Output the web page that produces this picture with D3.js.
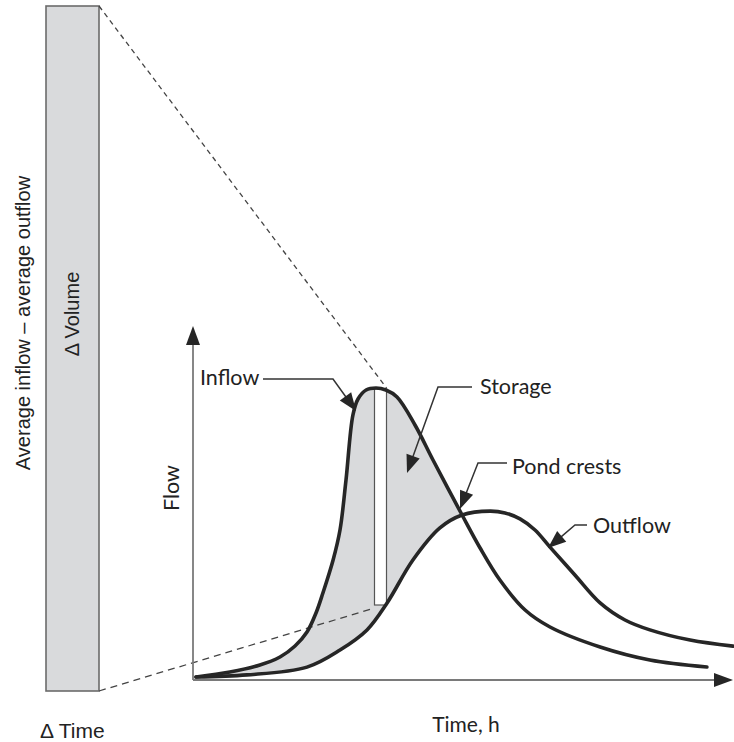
<!DOCTYPE html>
<html>
<head>
<meta charset="utf-8">
<script src="https://cdn.jsdelivr.net/npm/d3@7"></script>
<style>
  html, body { margin: 0; padding: 0; background: #fff; }
  svg { display: block; }
</style>
</head>
<body>
<svg id="chart" width="734" height="742"></svg>
<script>
// ---- Data (time in h, flow in arbitrary units) ----
const inflowTime = [0.1, 1.23, 2.23, 2.9, 3.4, 3.8, 4.1, 4.33, 4.67, 4.9, 5.1, 5.33, 5.5, 5.77, 6.1, 6.43, 6.8, 7.4, 8.0, 8.97, 9.57, 10.23, 11.07, 11.9, 13.57, 15.23, 17.13];
const inflowFlow = [1.0, 2.67, 5.0, 7.67, 11.33, 16.0, 22.33, 29.0, 40.0, 50.0, 66.67, 88.33, 93.67, 96.67, 97.33, 96.67, 94.33, 85.0, 73.33, 55.0, 44.0, 33.33, 23.33, 17.67, 11.0, 6.67, 4.33];
const outflowTime = [0.1, 1.8, 3.8, 4.9, 5.8, 6.47, 7.33, 8.23, 8.97, 9.9, 10.4, 10.9, 11.4, 11.9, 12.73, 13.57, 14.4, 15.23, 16.57, 18.0];
const outflowFlow = [1.0, 1.7, 4.3, 10.0, 16.7, 25.7, 40.0, 50.7, 55.0, 56.3, 55.7, 53.7, 50.0, 44.3, 35.0, 25.7, 20.0, 16.7, 13.3, 11.3];
const crossingTime = 8.97;            // pond crests: inflow meets outflow
const stripTime = [6.05, 6.45];       // Δ time slice
const stripFlow = [25.0, 97.0];       // outflow → inflow at the slice
const labels = ["Inflow", "Storage", "Pond crests", "Outflow"];

// ---- Layout ----
const svg = d3.select("#chart");
const x = d3.scaleLinear().domain([0, 18]).range([193, 733]);
const y = d3.scaleLinear().domain([0, 118]).range([680, 326]);

const inflow = inflowTime.map((t, i) => ({t, f: inflowFlow[i]}));
const outflow = outflowTime.map((t, i) => ({t, f: outflowFlow[i]}));

const line = d3.line().x(d => x(d.t)).y(d => y(d.f)).curve(d3.curveCatmullRom.alpha(0.5));

const ink = "#262626";
const axisCol = "#7a7a7a";
const fillGrey = "#d9dadc";

// Big magnified bar
const bar = {x0: 46, x1: 99, y0: 6, y1: 691};
svg.append("rect")
  .attr("x", bar.x0).attr("y", bar.y0)
  .attr("width", bar.x1 - bar.x0).attr("height", bar.y1 - bar.y0)
  .attr("fill", fillGrey).attr("stroke", "#6b6b6b").attr("stroke-width", 1.6);

// Storage fill between inflow and outflow up to crossing
const inSeg = inflow.filter(d => d.t <= crossingTime);
const outSeg = outflow.filter(d => d.t <= crossingTime);
const pIn = line(inSeg);
const pOutRev = line(outSeg.slice().reverse());
svg.append("path")
  .attr("d", pIn + "L" + pOutRev.slice(1) + "Z")
  .attr("fill", fillGrey).attr("stroke", "none");

// Δ time strip
svg.append("rect")
  .attr("x", x(stripTime[0])).attr("y", y(stripFlow[1]))
  .attr("width", x(stripTime[1]) - x(stripTime[0]))
  .attr("height", y(stripFlow[0]) - y(stripFlow[1]))
  .attr("fill", "#fff").attr("stroke", "#555").attr("stroke-width", 1.2);

// Dashed projection lines
svg.append("line")
  .attr("x1", bar.x1).attr("y1", bar.y0)
  .attr("x2", x(stripTime[1])).attr("y2", y(stripFlow[1]) - 1)
  .attr("stroke", "#444").attr("stroke-width", 1.3).attr("stroke-dasharray", "5,4");
svg.append("line")
  .attr("x1", bar.x1).attr("y1", bar.y1)
  .attr("x2", x(stripTime[0])).attr("y2", y(stripFlow[0]) + 3)
  .attr("stroke", "#444").attr("stroke-width", 1.3).attr("stroke-dasharray", "7,5");

// Axes
const x0 = x(0), yb = y(0);
svg.append("line").attr("x1", x0).attr("y1", yb).attr("x2", x0).attr("y2", y(118) + 14)
  .attr("stroke", axisCol).attr("stroke-width", 1.8);
svg.append("line").attr("x1", x0).attr("y1", yb).attr("x2", x(18) - 14).attr("y2", yb)
  .attr("stroke", axisCol).attr("stroke-width", 1.8);
svg.append("path")
  .attr("d", `M${x0},${y(118)} L${x0 - 7},${y(118) + 19} L${x0 + 7},${y(118) + 19} Z`)
  .attr("fill", ink);
svg.append("path")
  .attr("d", `M${x(18)},${yb} L${x(18) - 19},${yb - 7} L${x(18) - 19},${yb + 7} Z`)
  .attr("fill", ink);

// Curves
svg.append("path").attr("d", line(outflow)).attr("fill", "none")
  .attr("stroke", ink).attr("stroke-width", 3.6).attr("stroke-linecap", "round");
svg.append("path").attr("d", line(inflow)).attr("fill", "none")
  .attr("stroke", ink).attr("stroke-width", 3.6).attr("stroke-linecap", "round");

// Leader lines with arrows
function leader(points, tip) {
  const pts = points.concat([tip]);
  const a = pts[pts.length - 2];
  const dx = tip[0] - a[0], dy = tip[1] - a[1];
  const len = Math.hypot(dx, dy), ux = dx / len, uy = dy / len;
  const hl = 18, hw = 7;
  const bx = tip[0] - ux * hl, by = tip[1] - uy * hl;
  const lp = pts.slice(0, -1).concat([[bx + ux * 2, by + uy * 2]]);
  svg.append("path").attr("d", "M" + lp.map(p => p.join(",")).join("L"))
    .attr("fill", "none").attr("stroke", "#333").attr("stroke-width", 1.5);
  svg.append("path")
    .attr("d", `M${tip[0]},${tip[1]} L${bx - uy * hw},${by + ux * hw} L${bx + uy * hw},${by - ux * hw} Z`)
    .attr("fill", ink);
}
leader([[263, 379], [333, 379]], [356, 411]);
leader([[472, 387], [438, 387]], [407, 473]);
leader([[507, 463], [478, 463]], [460, 509]);
leader([[587, 525], [575, 525]], [548, 548]);

// Text
const fA = "Lato, 'Open Sans', sans-serif";
const fB = "'Liberation Sans', Arial, sans-serif";
const txt = (s, px, py, font, size, anchor, rot) => {
  const t = svg.append("text").text(s)
    .attr("font-family", font).attr("font-size", size).attr("fill", "#222")
    .attr("text-anchor", anchor || "start");
  if (rot) t.attr("transform", `translate(${px},${py}) rotate(${rot})`);
  else t.attr("x", px).attr("y", py);
  return t;
};
txt(labels[0], 200, 385, fA, 21.5);
txt(labels[1], 480, 394, fA, 21.5);
txt(labels[2], 512, 474, fA, 21.5);
txt(labels[3], 593, 533, fA, 21.5);
txt("Flow", 179, 488, fA, 21.5, "middle", -90);
txt("Time, h", 466, 732, fA, 21, "middle");
txt("Average inflow \u2013 average outflow", 30, 323, fB, 20, "middle", -90);
txt("\u0394 Volume", 79, 314, fB, 20, "middle", -90);
txt("\u0394 Time", 40, 738, fB, 21, "start");
</script>
</body>
</html>
